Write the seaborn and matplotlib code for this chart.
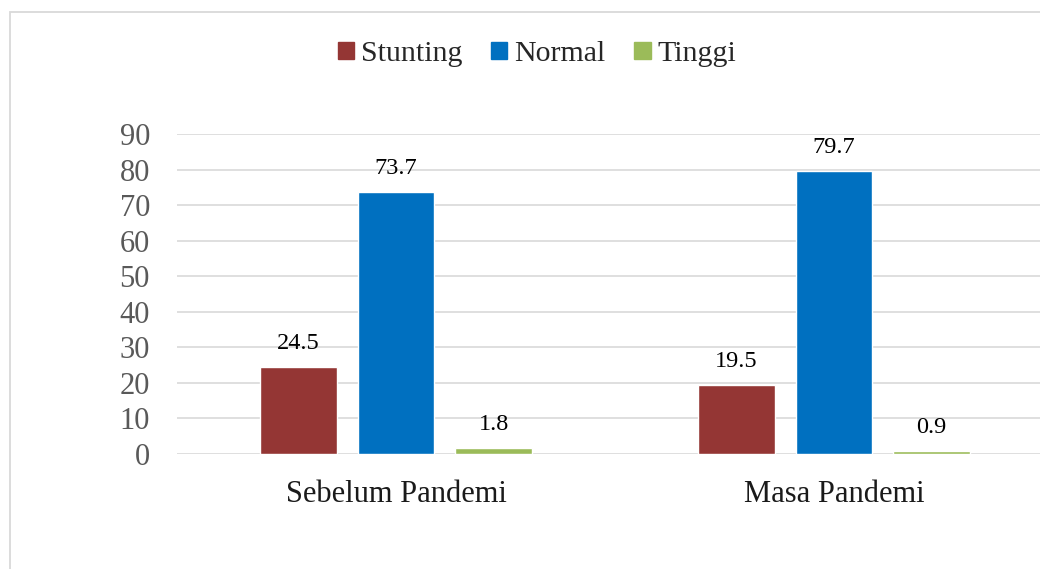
import matplotlib
matplotlib.use("Agg")
import matplotlib.pyplot as plt
from matplotlib.patches import Rectangle
import seaborn as sns
import pandas as pd

periods = ["Sebelum Pandemi", "Masa Pandemi"]
status = ["Stunting", "Normal", "Tinggi"]
stunting = [24.5, 19.5]
normal = [73.7, 79.7]
tinggi = [1.8, 0.9]
y_ticks = [0, 10, 20, 30, 40, 50, 60, 70, 80, 90]

colors = {"Stunting": "#943634", "Normal": "#0070C0", "Tinggi": "#9BBB59"}

df = pd.DataFrame({
    "period": periods * 3,
    "status": [s for s in status for _ in periods],
    "value": stunting + normal + tinggi,
})

sns.set_theme(style="white")
plt.rcParams["font.family"] = ["Liberation Serif", "DejaVu Serif"]

W, H = 1040, 569
fig = plt.figure(figsize=(W / 100, H / 100), dpi=100)
ax = fig.add_axes([177 / W, 1 - 454 / H, (1053 - 177) / W, (454 - 134) / H])

sns.barplot(data=df, x="period", y="value", hue="status", hue_order=status,
            order=periods, palette=colors, width=0.668, gap=0.22,
            saturation=1, legend=False, ax=ax, zorder=3)

for container in ax.containers:
    ax.bar_label(container, fmt="%.1f", padding=9, fontsize=17.5, color="black")

ax.set_ylim(0, 90)
ax.set_xlim(-0.5, 1.5)
ax.set_yticks(y_ticks)
ax.yaxis.grid(True, color="#d9d9d9", linewidth=1.2, zorder=0)
ax.set_axisbelow(True)
for side in ["top", "right", "left", "bottom"]:
    ax.spines[side].set_visible(False)
ax.tick_params(axis="y", length=0, pad=19.5, labelsize=22, labelcolor="#595959")
ax.tick_params(axis="x", length=0, pad=19, labelsize=22, labelcolor="#1a1a1a")
ax.set_xlabel("")
ax.set_ylabel("")

handles = [Rectangle((0, 0), 1, 1, color=colors[s]) for s in status]
fig.legend(handles, status, loc="center", bbox_to_anchor=(537 / W, 1 - 54 / H),
           ncol=3, frameon=False, fontsize=21.5, handlelength=0.54, handleheight=0.54,
           handletextpad=0.23, columnspacing=0.97)

# chart frame
fig.patches.append(Rectangle((10 / W, -0.1), 1.1, 1 - 12 / H + 0.1,
                             transform=fig.transFigure, fill=False,
                             edgecolor="#d9d9d9", linewidth=1.3))

fig.savefig("out.png", dpi=100)
